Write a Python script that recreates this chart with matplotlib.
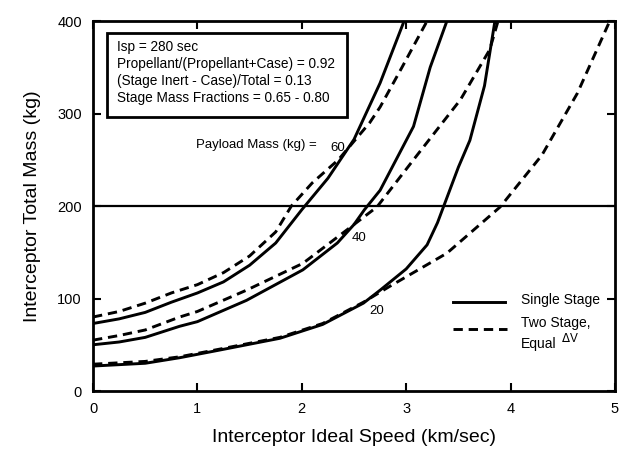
import matplotlib
matplotlib.use('Agg')
import matplotlib.pyplot as plt
from matplotlib.patches import Rectangle

# Single stage curves (solid), payload mass 60, 40, 20 kg
single60_x = [0, 0.25, 0.5, 0.75, 1.0, 1.25, 1.5, 1.75, 2.0, 2.25, 2.5, 2.75, 2.98]
single60_y = [73, 78, 85, 96, 106, 118, 136, 160, 196, 230, 272, 333, 400]
single40_x = [0, 0.25, 0.5, 0.83, 1.0, 1.47, 2.01, 2.34, 2.5, 2.6, 2.75, 3.07, 3.23, 3.39]
single40_y = [50, 53, 58, 70, 75, 98, 131, 160, 180, 196, 217, 286, 350, 400]
single20_x = [0, 0.5, 0.83, 1.2, 1.79, 2.2, 2.59, 2.75, 3.0, 3.2, 3.3, 3.4, 3.5, 3.61, 3.75, 3.85]
single20_y = [27, 30, 36, 44, 57, 72, 95, 109, 132, 158, 182, 212, 242, 271, 330, 400]

# Two stage, equal delta-V curves (dashed)
two60_x = [0, 0.25, 0.5, 0.75, 1.0, 1.25, 1.5, 1.75, 1.9, 2.1, 2.35, 2.65, 2.75, 2.96, 3.2]
two60_y = [80, 86, 95, 106, 115, 128, 146, 172, 200, 225, 250, 290, 307, 350, 400]
two40_x = [0, 0.25, 0.5, 0.83, 1.0, 1.47, 2.01, 2.43, 2.72, 3.07, 3.52, 3.8, 3.88]
two40_y = [55, 60, 66, 80, 86, 109, 138, 174, 199, 250, 315, 369, 400]
two20_x = [0, 0.5, 0.83, 1.2, 1.79, 2.2, 2.59, 2.84, 3.39, 3.9, 4.3, 4.64, 4.95]
two20_y = [29, 32, 37, 45, 58, 73, 96, 113, 149, 199, 255, 322, 400]

x_ticks = [0, 1, 2, 3, 4, 5]
y_ticks = [0, 100, 200, 300, 400]
limit_mass = 200

box_lines = ['Isp = 280 sec',
             'Propellant/(Propellant+Case) = 0.92',
             '(Stage Inert - Case)/Total = 0.13',
             'Stage Mass Fractions = 0.65 - 0.80']

plt.rcParams['font.family'] = ['Liberation Sans', 'DejaVu Sans']

fig = plt.figure(figsize=(6.26, 4.59), dpi=100)
ax = fig.add_axes([0.1486, 0.1481, 0.8338, 0.8061])

lw = 2.1
dash = (0, (3.2, 2.0))
for xs, ys in [(single60_x, single60_y), (single40_x, single40_y), (single20_x, single20_y)]:
    ax.plot(xs, ys, color='black', lw=lw)
for xs, ys in [(two60_x, two60_y), (two40_x, two40_y), (two20_x, two20_y)]:
    ax.plot(xs, ys, color='black', lw=lw, linestyle=dash)

ax.axhline(limit_mass, color='black', lw=1.6)

ax.set_xlim(0, 5)
ax.set_ylim(0, 400)
ax.set_xticks(x_ticks)
ax.set_yticks(y_ticks)
ax.tick_params(direction='in', length=6, width=1.5, top=True, right=True,
               labelsize=10.5, pad=8)
for s in ax.spines.values():
    s.set_linewidth(2)

ax.set_xlabel('Interceptor Ideal Speed (km/sec)', fontsize=14, labelpad=9)
ax.set_ylabel('Interceptor Total Mass (kg)', fontsize=14, labelpad=12)

# parameter box
ax.add_patch(Rectangle((0.134, 296), 2.30, 91, facecolor='white',
                       edgecolor='black', linewidth=2, zorder=3))
for i, line in enumerate(box_lines):
    ax.text(0.23, 372 - i * 18.5, line, fontsize=9.8, ha='left',
            va='center', zorder=4)

# curve labels
ax.text(0.99, 266, 'Payload Mass (kg) =', fontsize=9.5, ha='left', va='center')
ax.text(2.27, 263, '60', fontsize=9.5, ha='left', va='center')
ax.text(2.48, 165, '40', fontsize=9.5, ha='left', va='center')
ax.text(2.65, 87, '20', fontsize=9.5, ha='left', va='center')

# legend drawn by hand
ax.plot([3.45, 3.95], [96, 96], color='black', lw=lw)
ax.text(4.1, 98, 'Single Stage', fontsize=10, ha='left', va='center')
ax.plot([3.45, 3.97], [67, 67], color='black', lw=lw, linestyle=dash)
ax.text(4.1, 73, 'Two Stage,', fontsize=10, ha='left', va='center')
ax.text(4.1, 51, 'Equal', fontsize=10, ha='left', va='center')
ax.text(4.48, 57, r'$\Delta$V', fontsize=8.5, ha='left', va='center')

fig.savefig('out.png', dpi=100)
